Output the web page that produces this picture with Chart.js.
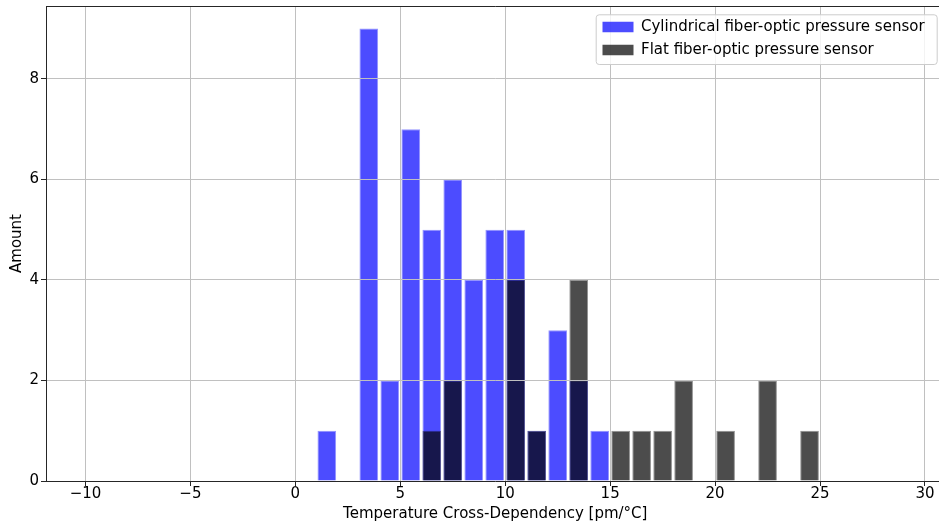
<!DOCTYPE html>
<html>
<head>
<meta charset="utf-8">
<script src="https://cdn.jsdelivr.net/npm/chart.js@4.4.1/dist/chart.umd.min.js"></script>
<style>
  html, body { margin: 0; padding: 0; background: #ffffff; overflow: hidden; width: 939px; height: 527px; }
  #wrap { position: relative; width: 939px; height: 527px; overflow: hidden; }
  #hist { position: absolute; left: 0; top: 0; }
</style>
</head>
<body>
<div id="wrap"><canvas id="hist" width="946" height="527"></canvas></div>
<script>
// Histogram bins: left edge of each 1 pm/°C wide bin
const binLeftEdges = [1, 2, 3, 4, 5, 6, 7, 8, 9, 10, 11, 12, 13, 14, 15, 16, 17, 18, 19, 20, 21, 22, 23, 24];
const binWidth = 1;

// Number of sensors per bin
const cylindricalCounts = [1, 0, 9, 2, 7, 5, 6, 4, 5, 5, 1, 3, 2, 1, 0, 0, 0, 0, 0, 0, 0, 0, 0, 0];
const flatCounts        = [0, 0, 0, 0, 0, 1, 2, 0, 0, 4, 1, 0, 4, 0, 1, 1, 1, 2, 0, 1, 0, 2, 0, 1];

const seriesNames = ['Cylindrical fiber-optic pressure sensor', 'Flat fiber-optic pressure sensor'];
const xTickValues = [-10, -5, 0, 5, 10, 15, 20, 25, 30];
const yTickValues = [0, 2, 4, 6, 8];
const xAxisTitle = 'Temperature Cross-Dependency [pm/°C]';
const yAxisTitle = 'Amount';

const FONT = { family: '"DejaVu Sans", sans-serif', size: 15 };
const GRID_COLOR = '#c0c0c0';
const AXIS_COLOR = '#262626';

function toPoints(counts) {
  return binLeftEdges.map((edge, i) => ({ x: edge + binWidth / 2, y: counts[i] }));
}

// Top spine plus a framed legend in the upper right of the plot area
const frameAndLegend = {
  id: 'frameAndLegend',
  afterLayout(chart) {
    const lg = chart.legend;
    const a = chart.chartArea;
    if (!lg) return;
    const frameRight = a.right - 7.8;
    const frameTop = a.top + 8.3;
    const frameW = 341, frameH = 49.7;
    chart.$legendFrame = { x: frameRight - frameW, y: frameTop, w: frameW, h: frameH };
    const pad = lg.options.labels.padding;
    const patchX = frameRight - frameW + 6.8;
    const patchTop = frameTop + 7.4;
    lg.left = patchX - pad;
    lg.top = patchTop - 2.25 - pad;
    lg.right = frameRight;
    lg.bottom = lg.top + 70;
    lg.width = lg.right - lg.left;
    lg.height = lg.bottom - lg.top;
    if (!lg.$deferred) {
      lg.$deferred = true;
      lg.draw = function () {};
    }
  },
  afterDraw(chart) {
    const ctx = chart.ctx;
    const a = chart.chartArea;
    ctx.save();
    ctx.strokeStyle = AXIS_COLOR;
    ctx.lineWidth = 1;
    ctx.beginPath();
    ctx.moveTo(a.left, Math.round(a.top) + 0.5);
    ctx.lineTo(a.right, Math.round(a.top) + 0.5);
    ctx.stroke();
    const f = chart.$legendFrame;
    if (f) {
      ctx.beginPath();
      ctx.roundRect(f.x + 0.5, f.y + 0.5, f.w, f.h, 3);
      ctx.fillStyle = 'rgba(255,255,255,0.8)';
      ctx.fill();
      ctx.strokeStyle = '#cccccc';
      ctx.lineWidth = 1;
      ctx.stroke();
    }
    ctx.restore();
    const lg = chart.legend;
    if (lg) Object.getPrototypeOf(lg).draw.call(lg);
  }
};

new Chart(document.getElementById('hist'), {
  type: 'bar',
  data: {
    datasets: [
      {
        label: seriesNames[0],
        data: toPoints(cylindricalCounts),
        backgroundColor: 'rgba(0,0,255,0.7)',
        borderColor: 'rgba(0,0,255,0.42)',
        borderWidth: 1,
        order: 2
      },
      {
        label: seriesNames[1],
        data: toPoints(flatCounts),
        backgroundColor: 'rgba(0,0,0,0.7)',
        borderColor: 'rgba(0,0,0,0.42)',
        borderWidth: 1,
        order: 1
      }
    ]
  },
  options: {
    responsive: false,
    animation: false,
    grouped: false,
    categoryPercentage: 1.0,
    barPercentage: 0.89,
    layout: { padding: { left: 0, top: 6, right: 1.5, bottom: 0 } },
    plugins: {
      tooltip: { enabled: false },
      legend: {
        position: 'chartArea',
        align: 'start',
        labels: {
          font: FONT,
          color: '#000000',
          boxWidth: 31,
          boxHeight: 10.5,
          padding: 8,
          generateLabels: (chart) => chart.data.datasets.map((ds, i) => ({
            text: ds.label,
            fillStyle: ds.backgroundColor,
            strokeStyle: ds.backgroundColor,
            lineWidth: 0,
            fontColor: '#000000',
            hidden: false,
            datasetIndex: i
          }))
        }
      }
    },
    scales: {
      x: {
        type: 'linear',
        min: -11.88,
        max: 30.93,
        offset: false,
        afterBuildTicks: (s) => { s.ticks = xTickValues.map(v => ({ value: v })); },
        afterFit: (s) => { s.height = 46; s.paddingLeft = 0; s.paddingRight = 0; },
        ticks: {
          font: { ...FONT, lineHeight: 1.1 },
          color: '#000000',
          padding: 0,
          maxRotation: 0,
          autoSkip: false,
          callback: (v) => (v < 0 ? '\u2212' + Math.abs(v) : String(v))
        },
        grid: {
          offset: false,
          color: GRID_COLOR,
          lineWidth: 1,
          z: 1,
          drawTicks: true,
          tickLength: 5,
          tickColor: AXIS_COLOR,
          tickWidth: 1
        },
        border: { display: true, color: AXIS_COLOR, width: 1, z: 2 },
        title: {
          display: true,
          text: xAxisTitle,
          font: FONT,
          color: '#000000',
          padding: { top: 0, bottom: 4 }
        }
      },
      y: {
        type: 'linear',
        min: 0,
        max: 9.45,
        afterBuildTicks: (s) => { s.ticks = yTickValues.map(v => ({ value: v })); },
        afterFit: (s) => { s.width = 46; s.paddingTop = 0; s.paddingBottom = 0; },
        ticks: {
          font: FONT,
          color: '#000000',
          padding: 2
        },
        grid: {
          color: GRID_COLOR,
          lineWidth: 1,
          z: 1,
          drawTicks: true,
          tickLength: 5,
          tickColor: AXIS_COLOR,
          tickWidth: 1
        },
        border: { display: true, color: AXIS_COLOR, width: 1, z: 2 },
        title: {
          display: true,
          text: yAxisTitle,
          font: FONT,
          color: '#000000',
          padding: { top: 7.7, bottom: 0 }
        }
      }
    }
  },
  plugins: [frameAndLegend]
});
</script>
</body>
</html>
